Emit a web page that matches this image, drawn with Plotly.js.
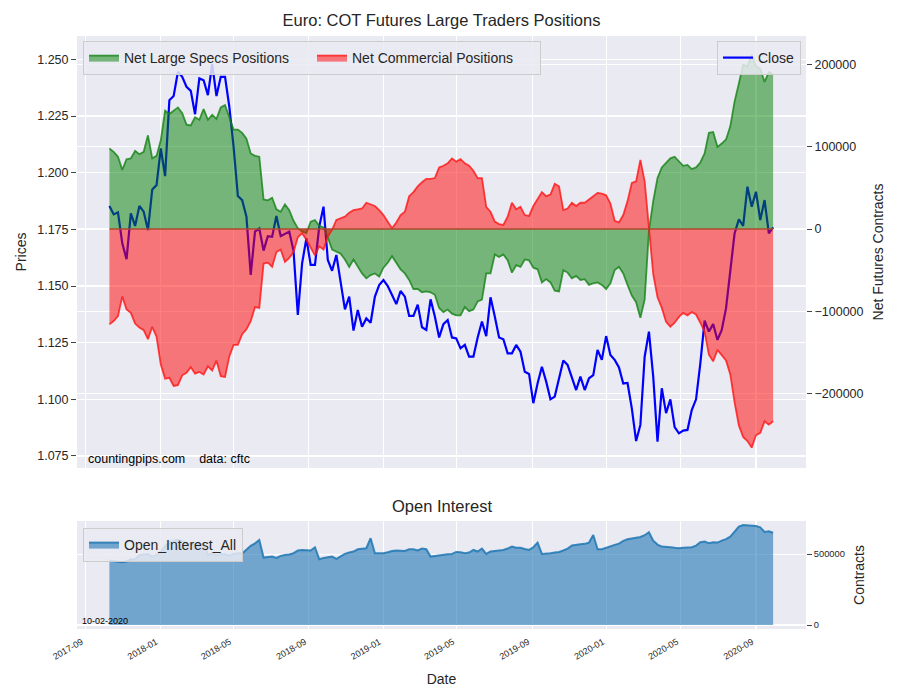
<!DOCTYPE html>
<html>
<head>
<meta charset="utf-8">
<script src="https://cdn.plot.ly/plotly-3.0.1.min.js"></script>
<style>html,body{margin:0;padding:0;background:#ffffff;}</style>
</head>
<body>
<div id="chart" style="width:900px;height:700px;"></div>
<script>
// ---- data (weekly COT reports) ----
const firstReportDate = '2017-10-10';
const reportLabel = '10-02-2020';

const closePrices = [
  1.1853,1.1816,1.1825,1.1688,1.1618,1.1820,1.1765,1.1853,1.1828,1.1747,
  1.1926,1.1945,1.2107,1.1985,1.2320,1.2338,1.2445,1.2423,1.2379,1.2361,
  1.2258,1.2416,1.2408,1.2342,1.2479,1.2338,1.2423,1.2423,1.2291,1.2114,
  1.1897,1.1879,1.1806,1.1549,1.1740,1.1754,1.1656,1.1720,1.1717,1.1809,
  1.1720,1.1729,1.1740,1.1655,1.1372,1.1600,1.1710,1.1593,1.1593,1.1762,
  1.1850,1.1615,1.1567,1.1637,1.1526,1.1397,1.1453,1.1303,1.1394,1.1320,
  1.1357,1.1338,1.1453,1.1504,1.1526,1.1500,1.1460,1.1420,1.1478,1.1453,
  1.1368,1.1368,1.1418,1.1318,1.1306,1.1441,1.1365,1.1273,1.1332,1.1350,
  1.1273,1.1269,1.1225,1.1240,1.1188,1.1188,1.1273,1.1343,1.1279,1.1450,
  1.1365,1.1273,1.1265,1.1203,1.1203,1.1240,1.1210,1.1122,1.1112,1.0983,
  1.1071,1.1144,1.1078,1.1000,1.1012,1.1093,1.1171,1.1152,1.1093,1.1041,
  1.1100,1.1041,1.1093,1.1107,1.1218,1.1174,1.1279,1.1196,1.1174,1.1141,
  1.1070,1.1072,1.0960,1.0816,1.0887,1.1188,1.1299,1.1100,1.0813,1.1049,
  1.0939,1.1000,1.0877,1.0850,1.0862,1.0865,1.0953,1.1000,1.1159,1.1347,
  1.1299,1.1332,1.1262,1.1306,1.1401,1.1556,1.1732,1.1794,1.1765,1.1938,
  1.1850,1.1916,1.1791,1.1879,1.1732,1.1759
];

const netLargeSpecs = [
  98000,94000,88000,72000,85000,86000,95000,91000,94000,114000,
  86000,89000,108000,144000,140000,144000,148000,141000,127000,126000,
  136000,133000,146000,133000,139000,134000,148000,151000,136000,121000,
  121000,117000,110000,92000,89000,88000,36000,35000,38000,24000,
  21000,30000,23000,10000,1000,-3000,-5000,9000,11000,4000,
  2000,-10000,-25000,-28000,-30000,-37000,-46000,-37000,-46000,-54000,
  -60000,-56000,-54000,-58000,-47000,-41000,-33000,-41000,-49000,-54000,
  -62000,-73000,-73000,-77000,-76000,-77000,-80000,-96000,-101000,-98000,
  -103000,-105000,-105000,-95000,-100000,-98000,-88000,-86000,-54000,-54000,
  -31000,-34000,-31000,-38000,-53000,-44000,-46000,-37000,-38000,-47000,
  -49000,-65000,-61000,-65000,-75000,-76000,-50000,-53000,-60000,-57000,
  -62000,-61000,-68000,-66000,-65000,-68000,-73000,-66000,-50000,-46000,
  -54000,-68000,-81000,-89000,-108000,-86000,-2000,34000,62000,75000,
  81000,86000,88000,82000,77000,78000,73000,75000,81000,92000,
  117000,118000,100000,104000,109000,125000,155000,177000,200000,198000,
  212000,198000,195000,179000,191000,188000
];

const netCommercial = [
  -116000,-112000,-106000,-82000,-98000,-102000,-115000,-120000,-123000,-134000,
  -119000,-131000,-165000,-182000,-181000,-191000,-190000,-178000,-175000,-168000,
  -176000,-174000,-177000,-167000,-172000,-160000,-179000,-180000,-155000,-141000,
  -141000,-128000,-122000,-112000,-95000,-96000,-42000,-41000,-46000,-28000,
  -25000,-40000,-35000,-28000,-10000,-5000,-13000,-23000,-32000,-21000,
  -25000,-9000,-1000,11000,13000,15000,20000,23000,24000,25000,
  32000,30000,28000,23000,17000,9000,1000,8000,17000,21000,
  40000,45000,52000,57000,61000,61000,62000,75000,77000,80000,
  86000,82000,85000,80000,77000,71000,62000,62000,27000,21000,
  9000,6000,5000,15000,32000,24000,27000,17000,16000,28000,
  36000,45000,40000,42000,55000,52000,23000,25000,32000,28000,
  32000,32000,36000,40000,44000,43000,41000,31000,10000,8000,
  17000,34000,56000,58000,84000,58000,3000,-55000,-83000,-96000,
  -113000,-119000,-114000,-107000,-102000,-105000,-101000,-104000,-114000,-125000,
  -153000,-161000,-147000,-154000,-160000,-177000,-211000,-239000,-253000,-258000,
  -266000,-251000,-248000,-234000,-238000,-234000
];

const openInterest = [
  453000,451000,448000,444000,448000,465000,465000,493000,498000,502000,
  483000,495000,519000,559000,582000,596000,601000,594000,582000,573000,
  566000,570000,577000,495000,507000,493000,502000,500000,490000,502000,
  507000,505000,530000,559000,577000,601000,476000,479000,483000,474000,
  488000,495000,498000,507000,526000,530000,526000,526000,549000,465000,
  474000,479000,483000,467000,483000,502000,512000,519000,535000,540000,
  542000,613000,507000,507000,507000,514000,523000,526000,526000,523000,
  535000,535000,526000,540000,535000,483000,488000,493000,495000,500000,
  502000,516000,514000,507000,512000,530000,519000,540000,502000,519000,
  523000,526000,530000,540000,554000,545000,545000,537000,530000,549000,
  582000,502000,502000,507000,512000,516000,526000,540000,561000,568000,
  570000,573000,582000,636000,535000,535000,547000,556000,566000,575000,
  594000,606000,610000,617000,622000,634000,655000,596000,568000,554000,
  549000,549000,545000,542000,545000,545000,549000,561000,584000,589000,
  577000,584000,582000,596000,606000,624000,660000,695000,706000,704000,
  704000,699000,690000,657000,662000,652000
];

// weekly report dates
const reportDates = [];
{
  const d0 = new Date(firstReportDate + 'T00:00:00Z');
  for (let k = 0; k < closePrices.length; k++) {
    const d = new Date(d0.getTime() + k * 7 * 86400000);
    reportDates.push(d.toISOString().slice(0, 10));
  }
}
const zeroLine = reportDates.map(() => 0);

// ---- styling ----
const FONT = 'Liberation Sans, Arial, Helvetica, sans-serif';
const TXT = '#262626';
const BG = '#EAEAF2';
const xRange = ['2017-08-18', '2020-11-21 18:00'];

const traces = [
  {
    x: reportDates, y: closePrices, name: 'Close', type: 'scatter', mode: 'lines',
    xaxis: 'x', yaxis: 'y', legend: 'legend2',
    line: {color: '#0000FF', width: 2.2}, hoverinfo: 'skip'
  },
  {
    x: reportDates, y: netLargeSpecs, name: 'Net Large Specs Positions', type: 'scatter', mode: 'lines',
    xaxis: 'x', yaxis: 'y2', legend: 'legend', fill: 'tozeroy',
    fillcolor: 'rgba(0,128,0,0.5)', line: {color: 'rgba(20,130,20,0.8)', width: 1.8}, hoverinfo: 'skip'
  },
  {
    x: reportDates, y: netCommercial, name: 'Net Commercial Positions', type: 'scatter', mode: 'lines',
    xaxis: 'x', yaxis: 'y2', legend: 'legend', fill: 'tozeroy',
    fillcolor: 'rgba(255,0,0,0.5)', line: {color: 'rgba(255,20,20,0.8)', width: 1.8}, hoverinfo: 'skip'
  },
  {
    x: reportDates, y: zeroLine, type: 'scatter', mode: 'lines', showlegend: false,
    xaxis: 'x', yaxis: 'y2', line: {color: 'rgb(170,70,45)', width: 1.4}, hoverinfo: 'skip'
  },
  {
    x: reportDates, y: openInterest, name: 'Open_Interest_All', type: 'scatter', mode: 'lines',
    xaxis: 'x2', yaxis: 'y3', legend: 'legend3', fill: 'tozeroy',
    fillcolor: 'rgba(31,119,180,0.6)', line: {color: 'rgba(31,119,180,0.85)', width: 2}, hoverinfo: 'skip'
  }
];

const legendCommon = {
  bgcolor: 'rgba(234,234,242,0.85)', bordercolor: '#CCCCCC', borderwidth: 1,
  font: {family: FONT, size: 14, color: TXT}
};

const layout = {
  width: 900, height: 700,
  margin: {l: 77, r: 94, t: 36, b: 71, pad: 0},
  paper_bgcolor: '#FFFFFF', plot_bgcolor: BG,
  font: {family: FONT, color: TXT, size: 12},
  title: {
    text: 'Euro: COT Futures Large Traders Positions',
    font: {family: FONT, size: 16.5, color: TXT},
    xref: 'paper', x: 0.5, xanchor: 'center',
    yref: 'container', y: 1 - 20 / 700, yanchor: 'middle'
  },
  xaxis: {
    domain: [0, 1], anchor: 'y', type: 'date', range: xRange,
    tick0: '2017-09-01', dtick: 'M4', showticklabels: false, ticks: '',
    showgrid: true, gridcolor: '#FFFFFF', gridwidth: 1.2, zeroline: false, showline: false
  },
  yaxis: {
    domain: [161 / 593, 1], anchor: 'x', range: [1.0697, 1.2603],
    tick0: 1.075, dtick: 0.025, tickformat: '.3f',
    ticks: 'outside', ticklen: 5, tickwidth: 1, tickcolor: '#444444',
    tickfont: {family: FONT, size: 12.5, color: TXT},
    showgrid: true, gridcolor: '#FFFFFF', gridwidth: 1.2, zeroline: false, showline: false,
    title: {text: 'Prices', font: {family: FONT, size: 14, color: TXT}, standoff: 7}
  },
  yaxis2: {
    overlaying: 'y', anchor: 'x', side: 'right', range: [-290800, 234900],
    dtick: 100000, tickformat: 'd',
    ticks: 'outside', ticklen: 5, tickwidth: 1, tickcolor: '#444444',
    tickfont: {family: FONT, size: 12.5, color: TXT},
    showgrid: true, gridcolor: '#FFFFFF', gridwidth: 1.2, zeroline: false, showline: false,
    title: {text: 'Net Futures Contracts', font: {family: FONT, size: 14, color: TXT}, standoff: 10}
  },
  xaxis2: {
    domain: [0, 1], anchor: 'y3', type: 'date', range: xRange, matches: 'x',
    tick0: '2017-09-01', dtick: 'M4', tickformat: '%Y-%m', tickangle: -30, ticks: '',
    ticklabelstandoff: 5, ticklabelshift: -4,
    tickfont: {family: FONT, size: 9, color: TXT},
    showgrid: true, gridcolor: '#FFFFFF', gridwidth: 1.2, zeroline: false, showline: false,
    title: {text: 'Date', font: {family: FONT, size: 14, color: TXT}, standoff: 13}
  },
  yaxis3: {
    domain: [0, 108 / 593], anchor: 'x2', side: 'right', range: [-28200, 734500],
    dtick: 500000, tickformat: 'd',
    ticks: 'outside', ticklen: 5, tickwidth: 1, tickcolor: '#444444',
    tickfont: {family: FONT, size: 9.3, color: TXT},
    showgrid: true, gridcolor: '#FFFFFF', gridwidth: 1.2, zeroline: false, showline: false,
    title: {text: 'Contracts', font: {family: FONT, size: 14, color: TXT}, standoff: 10}
  },
  legend: Object.assign({}, legendCommon, {
    orientation: 'h', x: 6 / 729, xanchor: 'left', y: 1 - 5 / 593, yanchor: 'top',
    entrywidth: 183, entrywidthmode: 'pixels', traceorder: 'normal'
  }),
  legend2: Object.assign({}, legendCommon, {
    x: 724 / 729, xanchor: 'right', y: 1 - 5 / 593, yanchor: 'top'
  }),
  legend3: Object.assign({}, legendCommon, {
    x: 6 / 729, xanchor: 'left', y: 101 / 593, yanchor: 'top'
  }),
  annotations: [
    {
      text: 'countingpips.com\u00a0\u00a0\u00a0\u00a0data: cftc', showarrow: false,
      xref: 'paper', yref: 'paper', x: 9 / 729, xanchor: 'left', y: 170 / 593, yanchor: 'middle',
      font: {family: FONT, size: 12.5, color: '#000000'}
    },
    {
      text: 'Open Interest', showarrow: false,
      xref: 'paper', yref: 'paper', x: 0.5, xanchor: 'center', y: 123 / 593, yanchor: 'middle',
      font: {family: FONT, size: 16.5, color: TXT}
    },
    {
      text: reportLabel, showarrow: false,
      xref: 'paper', yref: 'paper', x: 3 / 729, xanchor: 'left', y: 8 / 593, yanchor: 'middle',
      font: {family: FONT, size: 9, color: '#000000'}
    }
  ]
};

Plotly.newPlot('chart', traces, layout, {displayModeBar: false, staticPlot: true});
</script>
</body>
</html>
